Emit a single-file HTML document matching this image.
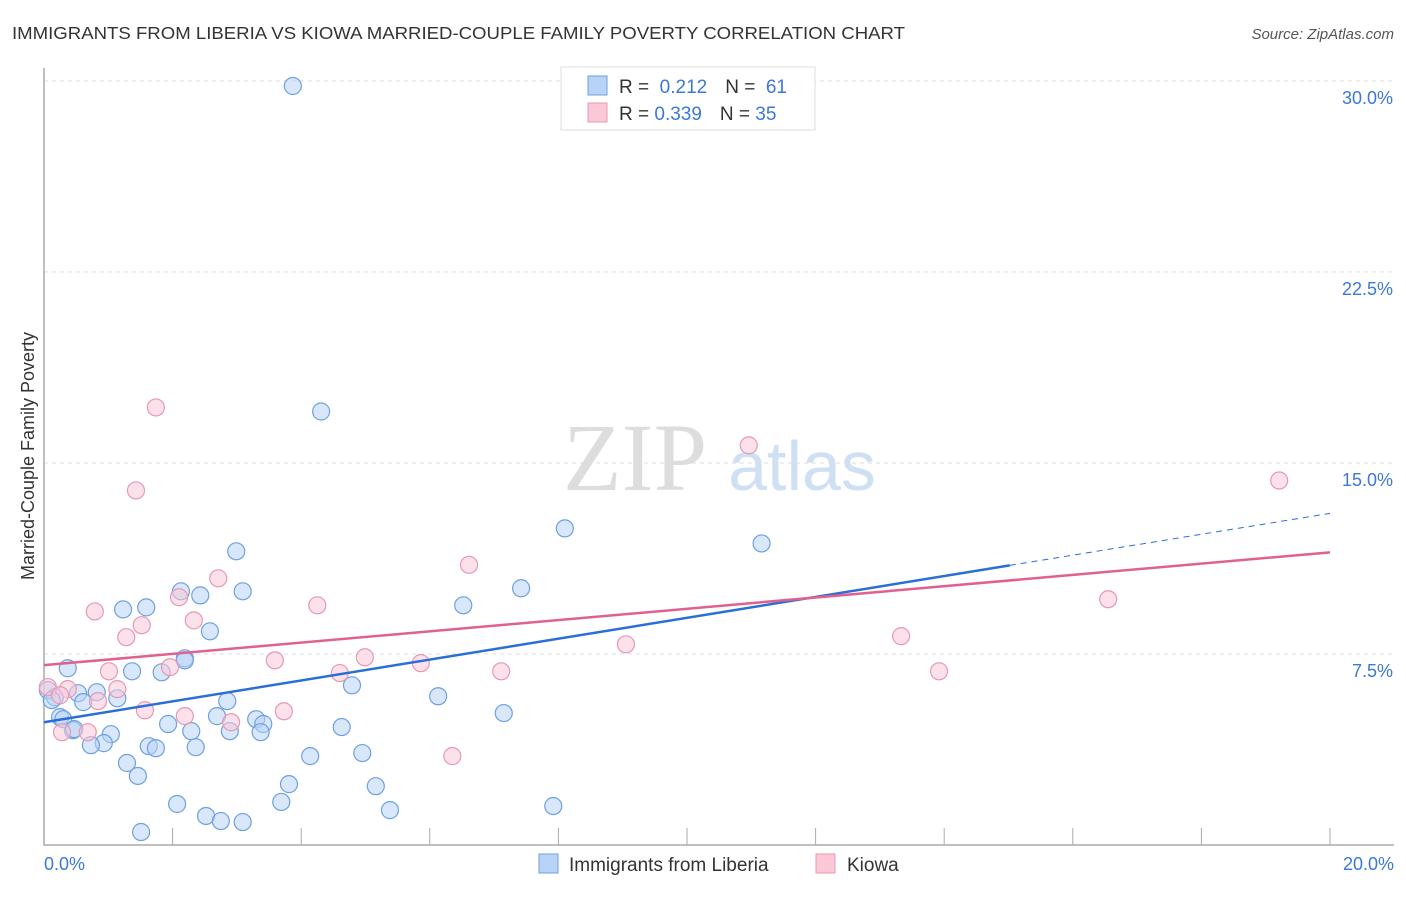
<!DOCTYPE html>
<html><head><meta charset="utf-8"><style>
body{margin:0;background:#fff;font-family:"Liberation Sans",sans-serif}
</style></head><body>
<svg id="chart" width="1406" height="892" xmlns="http://www.w3.org/2000/svg" font-family="Liberation Sans, sans-serif">
<text x="12" y="39" font-size="17.5" fill="#333" textLength="893" lengthAdjust="spacingAndGlyphs">IMMIGRANTS FROM LIBERIA VS KIOWA MARRIED-COUPLE FAMILY POVERTY CORRELATION CHART</text>
<text x="1394" y="39" font-size="15" fill="#555" text-anchor="end" font-style="italic">Source: ZipAtlas.com</text>
<g>
<text x="635" y="490" font-size="96" fill="#ddd" text-anchor="middle" font-family="Liberation Serif, serif">ZIP</text>
<text x="802" y="490" font-size="70" fill="#cfe0f5" text-anchor="middle">atlas</text></g>
<g id="grid"></g><g id="axes"></g><g id="marks"></g><g id="trend"></g>
<text transform="translate(34,456) rotate(-90)" font-size="18" fill="#333" text-anchor="middle">Married-Couple Family Poverty</text>
<g>
<rect x="561" y="67" width="254" height="63" fill="#fff" stroke="#ddd"/>
<rect x="588" y="76" width="19" height="19" fill="#b8d3f5" stroke="#6fa0e0"/>
<rect x="588" y="103" width="19" height="19" fill="#fcc8d8" stroke="#e898b0"/>
<text x="619" y="93" font-size="19" fill="#333">R = <tspan fill="#3c78d8">&#160;0.212</tspan><tspan dx="18" fill="#333">N = </tspan><tspan fill="#3c78d8">&#160;61</tspan></text>
<text x="619" y="120" font-size="19" fill="#333">R = <tspan fill="#3c78d8">0.339</tspan><tspan dx="18" fill="#333">N = </tspan><tspan fill="#3c78d8">35</tspan></text>
</g>
<g>
<rect x="539" y="854" width="19" height="19" fill="#b8d3f5" stroke="#6fa0e0"/>
<text x="569" y="871" font-size="19" fill="#333">Immigrants from Liberia</text>
<rect x="816" y="854" width="19" height="19" fill="#fcc8d8" stroke="#e898b0"/>
<text x="847" y="871" font-size="19" fill="#333">Kiowa</text>
</g>
</svg>
<script>
const yTicks=[7.5,15,22.5,30];
const yTickLabels=["7.5%","15.0%","22.5%","30.0%"];
const xTickLabels=["0.0%","20.0%"];
const blueX=[3.87,4.31,8.1,11.16,2.99,7.42,6.52,3.09,2.13,2.43,1.23,1.59,2.58,2.19,0.37,1.37,1.83,4.79,6.13,0.82,0.53,1.14,0.61,0.06,0.17,0.12,2.85,7.15,2.69,0.25,0.3,1.93,3.3,3.41,0.45,2.29,1.04,2.89,3.37,4.63,1.63,1.74,2.36,0.93,0.73,4.14,4.95,1.29,1.46,3.81,5.16,2.07,3.69,7.92,5.38,2.52,2.75,3.09,1.51,0.47,2.19];
const blueY=[29.8,17.02,12.43,11.84,11.53,10.08,9.41,9.96,9.96,9.8,9.25,9.33,8.39,7.33,6.94,6.82,6.78,6.27,5.84,6.0,5.96,5.76,5.61,6.08,5.8,5.69,5.65,5.18,5.06,5.02,4.94,4.75,4.94,4.75,4.51,4.47,4.35,4.47,4.43,4.63,3.88,3.8,3.84,4.0,3.92,3.49,3.61,3.22,2.71,2.39,2.31,1.61,1.69,1.53,1.37,1.14,0.94,0.9,0.51,4.55,7.25];
const pinkX=[1.74,1.43,10.96,19.21,6.61,2.71,16.55,0.79,4.25,2.1,2.33,1.52,1.28,13.33,9.05,3.59,4.99,5.86,4.6,7.11,13.92,1.01,1.96,1.14,0.37,0.06,0.84,0.25,1.57,2.19,2.91,3.73,0.68,6.35,0.28];
const pinkY=[17.18,13.92,15.69,14.31,11.0,10.47,9.65,9.17,9.41,9.73,8.82,8.63,8.16,8.2,7.88,7.25,7.37,7.14,6.75,6.82,6.82,6.82,6.98,6.12,6.12,6.2,5.65,5.88,5.29,5.06,4.82,5.25,4.43,3.49,4.43];
const blueLine=[4.82,13.02], blueSolidEnd=15.02;
const pinkLine=[7.06,11.49];
const X0=44,X1=1330,Y0=845,Ypp=25.47;
const sx=v=>X0+(X1-X0)*v/20, sy=v=>Y0-v*Ypp;
const NS="http://www.w3.org/2000/svg";
function mk(tag,attrs,parent){const e=document.createElementNS(NS,tag);for(const k in attrs)e.setAttribute(k,attrs[k]);document.getElementById(parent).appendChild(e);return e;}
yTicks.forEach((t,i)=>{
 const g=mk('line',{x1:X0,x2:1394,y1:sy(t),y2:sy(t),stroke:'#ddd','stroke-dasharray':'4,4'},'grid');
 
 
 const l=mk('text',{x:1393,y:sy(t)+23,'font-size':18,fill:'#3c78d8','text-anchor':'end'},'axes');
 l.textContent=yTickLabels[i];
 
 
});
const ax=mk('path',{d:`M${X0},68V${Y0}H1394`,stroke:'#aaa',fill:'none','stroke-width':1.5},'axes');


for(let i=1;i<=10;i++){const t=mk('line',{x1:sx(i*2),x2:sx(i*2),y1:Y0,y2:Y0-17,stroke:'#aaa'},'axes');
 
 }
[[0,'start',X0],[1,'end',1394]].forEach(([i,a,x])=>{const l=mk('text',{x:x,y:870,'font-size':18,fill:'#3c78d8','text-anchor':a},'axes');l.textContent=xTickLabels[i];
 
 });
function pts(xs,ys,fill,stroke,name){xs.forEach((x,i)=>{const c=mk('circle',{cx:sx(x),cy:sy(ys[i]),r:8.5,fill:fill,'fill-opacity':0.55,stroke:stroke,'stroke-width':1.2},'marks');
 
 });}
pts(blueX,blueY,'#b8d3f5','#6fa0e0','liberia-point');
pts(pinkX,pinkY,'#fcc8d8','#e898b0','kiowa-point');
const yb=x=>blueLine[0]+(blueLine[1]-blueLine[0])*x/20;
let l1=mk('line',{x1:sx(0),y1:sy(yb(0)),x2:sx(blueSolidEnd),y2:sy(yb(blueSolidEnd)),stroke:'#2a6ed8','stroke-width':2.5},'trend');


let l2=mk('line',{x1:sx(blueSolidEnd),y1:sy(yb(blueSolidEnd)),x2:sx(20),y2:sy(yb(20)),stroke:'#2a6ed8','stroke-width':1,'stroke-dasharray':'6,5'},'trend');


let l3=mk('line',{x1:sx(0),y1:sy(pinkLine[0]),x2:sx(20),y2:sy(pinkLine[1]),stroke:'#e06090','stroke-width':2.5},'trend');


</script>
</body></html>
